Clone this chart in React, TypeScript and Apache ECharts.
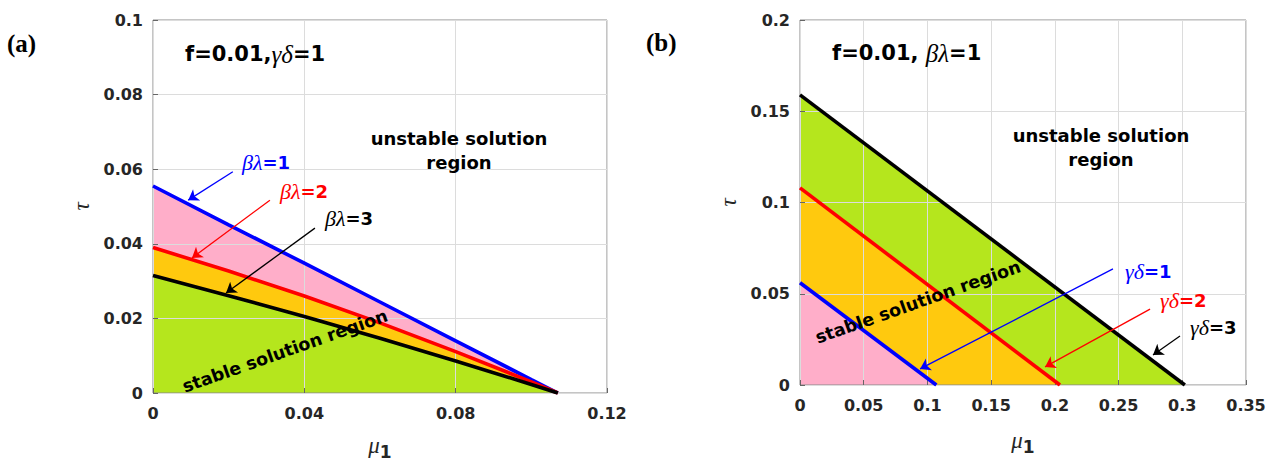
import React, { useEffect, useRef } from "react";
import * as echarts from "echarts";

// Panel (a): f=0.01, γδ=1
const muA = [0, 0.02, 0.04, 0.06, 0.08, 0.1, 0.107];
const tauBL1 = [0.0555, 0.0451, 0.0348, 0.0244, 0.014, 0.0036, 0];
const tauBL2 = [0.039, 0.0327, 0.026, 0.0188, 0.0111, 0.003, 0];
const tauBL3 = [0.0315, 0.0261, 0.0205, 0.0147, 0.0086, 0.0023, 0];

// Panel (b): f=0.01, βλ=1
const muGD1 = [0, 0.107];
const tauGD1 = [0.056, 0];
const muGD2 = [0, 0.204];
const tauGD2 = [0.108, 0];
const muGD3 = [0, 0.302];
const tauGD3 = [0.159, 0];

// Axis ticks
const xTicksA = { min: 0, max: 0.12, interval: 0.04 };
const yTicksA = { min: 0, max: 0.1, interval: 0.02 };
const xTicksB = { min: 0, max: 0.35, interval: 0.05 };
const yTicksB = { min: 0, max: 0.2, interval: 0.05 };

// Arrow annotations in data coordinates [from, to]
const arrowsA = [
  { from: [0.0211, 0.0593], to: [0.0093, 0.0517], color: "#0000ff" },
  { from: [0.0309, 0.0517], to: [0.0103, 0.0362], color: "#ff0000" },
  { from: [0.0428, 0.0442], to: [0.0193, 0.0268], color: "#000000" },
];
const arrowsB = [
  { from: [0.2456, 0.0636], to: [0.0942, 0.0088], color: "#0000ff" },
  { from: [0.2747, 0.0416], to: [0.1923, 0.0099], color: "#ff0000" },
  { from: [0.2982, 0.0268], to: [0.277, 0.0164], color: "#000000" },
];

const zip = (xs: number[], ys: number[]) => xs.map((x, i) => [x, ys[i]]);

const PINK = "#FFAEC9";
const ORANGE = "#FFC90E";
const GREEN = "#B5E61D";
const TXT = "#262626";
const SANS = "DejaVu Sans";
const SERIF = "Liberation Serif";

const fmt = (v: number) => String(parseFloat(v.toFixed(3)));

function makeX(gridIndex: number, t: any, gap: number) {
  return {
    type: "value",
    gridIndex,
    min: t.min,
    max: t.max,
    interval: t.interval,
    z: 3,
    axisLine: { show: false },
    axisTick: { show: true, inside: true, length: 5, lineStyle: { color: "#666" } },
    splitLine: { show: true, lineStyle: { color: "#dcdcdc", width: 1 } },
    axisLabel: {
      formatter: fmt,
      fontFamily: SANS,
      fontWeight: "bold",
      fontSize: 16,
      color: TXT,
      margin: 12,
    },
    name: "{m|μ}{s|1}",
    nameLocation: "middle",
    nameGap: gap,
    nameTextStyle: {
      rich: {
        m: { fontFamily: SERIF, fontStyle: "italic", fontSize: 23, color: TXT },
        s: { fontFamily: SANS, fontWeight: "bold", fontSize: 17, color: TXT, padding: [12, 0, 0, 0] },
      },
    },
  };
}

function makeY(gridIndex: number, t: any) {
  return {
    type: "value",
    gridIndex,
    min: t.min,
    max: t.max,
    interval: t.interval,
    z: 3,
    axisLine: { show: false },
    axisTick: { show: true, inside: true, length: 5, lineStyle: { color: "#666" } },
    splitLine: { show: true, lineStyle: { color: "#dcdcdc", width: 1 } },
    axisLabel: {
      formatter: fmt,
      fontFamily: SANS,
      fontWeight: "bold",
      fontSize: 16,
      color: TXT,
      margin: 10,
    },
    name: "τ",
    nameLocation: "middle",
    nameGap: 60,
    nameRotate: 90,
    nameTextStyle: { fontFamily: SERIF, fontStyle: "italic", fontSize: 23, color: TXT },
  };
}

function area(idx: number, data: number[][], color: string) {
  return {
    type: "line",
    xAxisIndex: idx,
    yAxisIndex: idx,
    data,
    showSymbol: false,
    symbol: "none",
    smooth: false,
    lineStyle: { width: 0, opacity: 0 },
    areaStyle: { color, opacity: 1 },
    z: 2,
    silent: true,
  };
}

function curve(idx: number, data: number[][], color: string) {
  return {
    type: "line",
    xAxisIndex: idx,
    yAxisIndex: idx,
    data,
    showSymbol: false,
    symbol: "none",
    lineStyle: { width: 3.6, color },
    z: 4,
    silent: true,
  };
}

function arrow(idx: number, a: any) {
  return {
    type: "lines",
    coordinateSystem: "cartesian2d",
    xAxisIndex: idx,
    yAxisIndex: idx,
    symbol: ["none", "arrow"],
    symbolSize: 10,
    lineStyle: { color: a.color, width: 1.3, opacity: 1 },
    data: [{ coords: [a.from, a.to] }],
    z: 5,
    silent: true,
  };
}

function label(x: number, y: number, g: string, n: string, color: string) {
  return {
    type: "text",
    x,
    y,
    z: 10,
    style: {
      text: `{g|${g}}{n|${n}}`,
      verticalAlign: "middle",
      align: "left",
      rich: {
        g: { fontFamily: SERIF, fontStyle: "italic", fontSize: 22, fill: color },
        n: { fontFamily: SANS, fontWeight: "bold", fontSize: 18, fill: color },
      },
    },
  };
}

function title(x: number, y: number, pre: string, g: string, post: string) {
  return {
    type: "text",
    x,
    y,
    z: 10,
    style: {
      text: `{n|${pre}}{g|${g}}{n|${post}}`,
      verticalAlign: "middle",
      align: "left",
      rich: {
        g: { fontFamily: SERIF, fontStyle: "italic", fontSize: 25, fill: "#000" },
        n: { fontFamily: SANS, fontWeight: "bold", fontSize: 21, fill: "#000" },
      },
    },
  };
}

function plain(x: number, y: number, text: string, opts: any = {}) {
  return {
    type: "text",
    x,
    y,
    z: 10,
    rotation: opts.rotation || 0,
    style: {
      text,
      align: opts.align || "center",
      verticalAlign: "middle",
      fontFamily: opts.fontFamily || SANS,
      fontWeight: "bold",
      fontSize: opts.fontSize || 17,
      lineHeight: opts.lineHeight || 24,
      fill: "#000",
    },
  };
}

export default function App() {
  const ref = useRef<HTMLDivElement>(null);
  useEffect(() => {
    if (!ref.current) return;
    const chart = echarts.init(ref.current, undefined, { renderer: "svg" });
    const rot = (19.5 * Math.PI) / 180;
    const gridBase = {
      show: true,
      borderColor: "#8a8a8a",
      borderWidth: 1,
      z: 3,
      containLabel: false,
      outerBoundsMode: "none",
    };
    const option: any = {
      animation: false,
      backgroundColor: "#fff",
      grid: [
        { ...gridBase, left: 153, top: 20, width: 454, height: 373 },
        { ...gridBase, left: 800, top: 20, width: 446, height: 365 },
      ],
      xAxis: [makeX(0, xTicksA, 38), makeX(1, xTicksB, 41)],
      yAxis: [makeY(0, yTicksA), makeY(1, yTicksB)],
      series: [
        area(0, zip(muA, tauBL1), PINK),
        area(0, zip(muA, tauBL2), ORANGE),
        area(0, zip(muA, tauBL3), GREEN),
        curve(0, zip(muA, tauBL1), "#0000ff"),
        curve(0, zip(muA, tauBL2), "#ff0000"),
        curve(0, zip(muA, tauBL3), "#000000"),
        ...arrowsA.map((a) => arrow(0, a)),
        area(1, zip(muGD3, tauGD3), GREEN),
        area(1, zip(muGD2, tauGD2), ORANGE),
        area(1, zip(muGD1, tauGD1), PINK),
        curve(1, zip(muGD1, tauGD1), "#0000ff"),
        curve(1, zip(muGD2, tauGD2), "#ff0000"),
        curve(1, zip(muGD3, tauGD3), "#000000"),
        ...arrowsB.map((a) => arrow(1, a)),
      ],
      graphic: [
        plain(7, 43, "(a)", { align: "left", fontFamily: SERIF, fontSize: 25 }),
        plain(646, 42, "(b)", { align: "left", fontFamily: SERIF, fontSize: 25 }),
        title(185, 54, "f=0.01,", "γδ", "=1"),
        title(832, 53, "f=0.01, ", "βλ", "=1"),
        plain(459, 150, "unstable solution\nregion", { fontSize: 18 }),
        plain(1101, 147, "unstable solution\nregion", { fontSize: 18 }),
        plain(285, 351, "stable solution region", { rotation: rot, fontSize: 17.5 }),
        plain(918, 302, "stable solution region", { rotation: rot, fontSize: 17.5 }),
        label(242, 162, "βλ", "=1", "#0000ff"),
        label(280, 191, "βλ", "=2", "#ff0000"),
        label(325, 218, "βλ", "=3", "#000000"),
        label(1125, 271, "γδ", "=1", "#0000ff"),
        label(1160, 300, "γδ", "=2", "#ff0000"),
        label(1190, 327, "γδ", "=3", "#000000"),
      ],
    };
    chart.setOption(option);
    return () => chart.dispose();
  }, []);
  return (
    <div
      ref={ref}
      style={{ position: "fixed", left: 0, top: 0, width: 1276, height: 463 }}
    />
  );
}
